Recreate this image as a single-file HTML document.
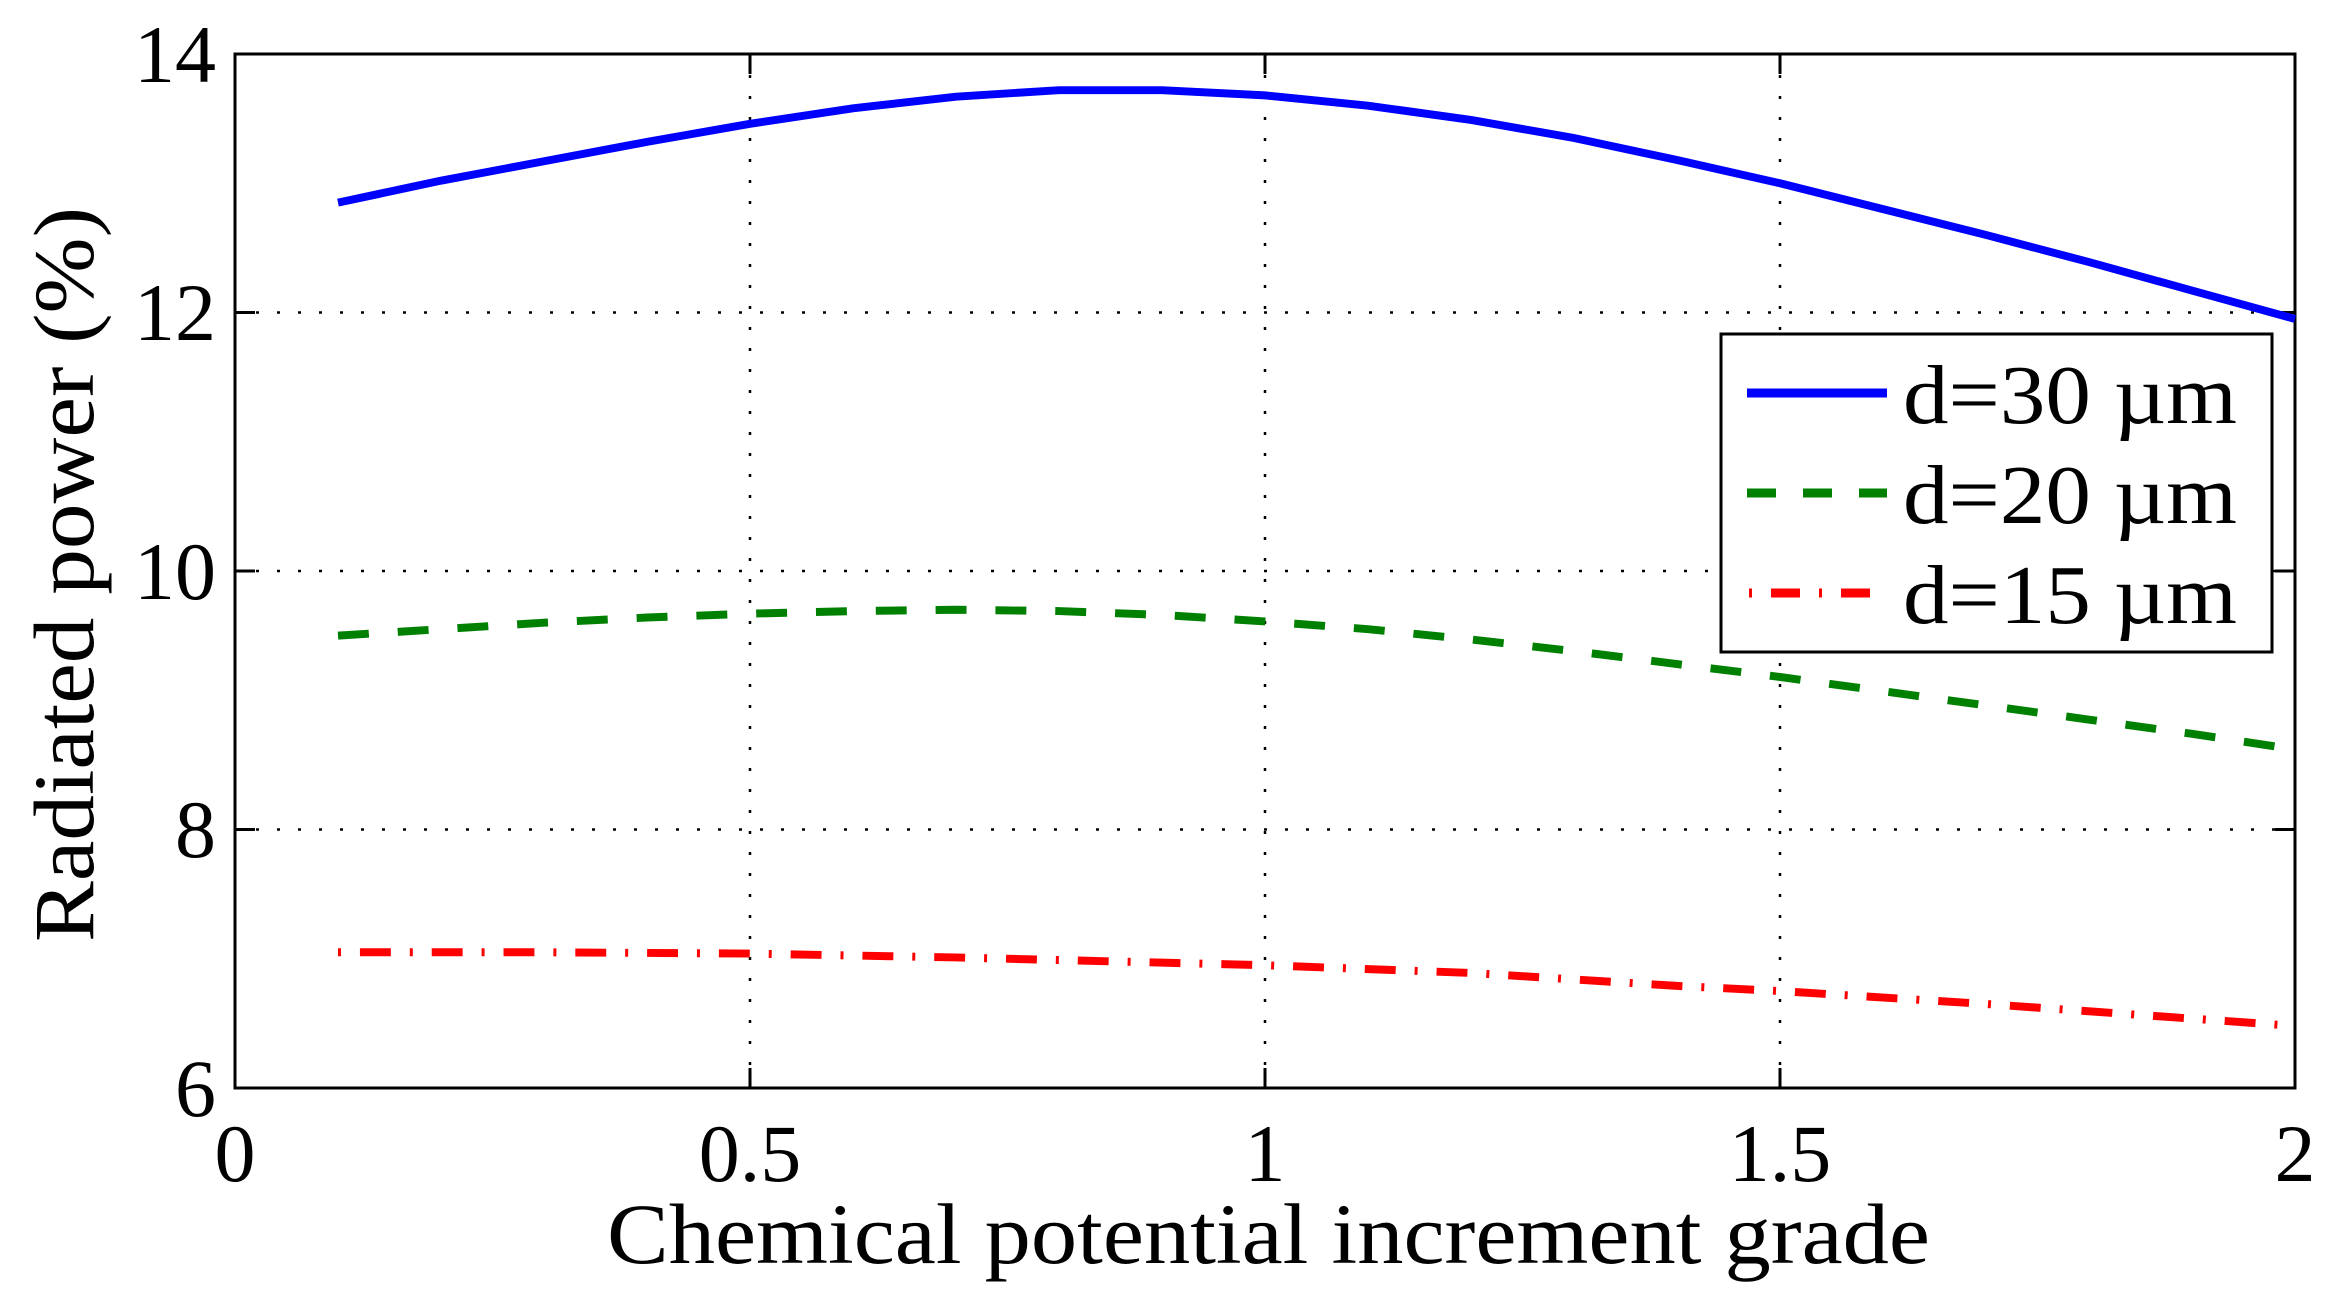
<!DOCTYPE html>
<html><head><meta charset="utf-8"><style>
html,body{margin:0;padding:0;background:#fff;}
svg{display:block;}
text{font-family:"Liberation Serif",serif;fill:#000;}
</style></head><body>
<svg width="2338" height="1296" viewBox="0 0 2338 1296" xmlns="http://www.w3.org/2000/svg">
<rect width="2338" height="1296" fill="#fff"/>
<!-- grid -->
<g stroke="#000" stroke-width="2.5" stroke-dasharray="3 18" fill="none">
<line x1="235" y1="312.5" x2="2295" y2="312.5"/>
<line x1="235" y1="571" x2="2295" y2="571"/>
<line x1="235" y1="829.5" x2="2295" y2="829.5"/>
<line x1="750" y1="54" x2="750" y2="1088"/>
<line x1="1265" y1="54" x2="1265" y2="1088"/>
<line x1="1780" y1="54" x2="1780" y2="1088"/>
</g>
<!-- ticks -->
<g stroke="#000" stroke-width="3">
<line x1="235" y1="312.5" x2="255" y2="312.5"/><line x1="2295" y1="312.5" x2="2275" y2="312.5"/>
<line x1="235" y1="571" x2="255" y2="571"/><line x1="2295" y1="571" x2="2275" y2="571"/>
<line x1="235" y1="829.5" x2="255" y2="829.5"/><line x1="2295" y1="829.5" x2="2275" y2="829.5"/>
<line x1="750" y1="1088" x2="750" y2="1068"/><line x1="750" y1="54" x2="750" y2="74"/>
<line x1="1265" y1="1088" x2="1265" y2="1068"/><line x1="1265" y1="54" x2="1265" y2="74"/>
<line x1="1780" y1="1088" x2="1780" y2="1068"/><line x1="1780" y1="54" x2="1780" y2="74"/>
</g>
<rect x="235" y="54" width="2060" height="1034" fill="none" stroke="#000" stroke-width="3"/>
<!-- data -->
<g transform="translate(235,54) scale(0.9971,0.99423) translate(-240,-54)" fill="none" stroke-width="8">
<polyline stroke="#0000ff" points="343.3,203.5 446.6,181.4 549.9,161.9 653.2,142.4 756.5,124.2 859.8,108.6 963.1,96.9 1066.4,90.4 1169.7,90.4 1273,95.6 1376.3,106 1479.6,120.3 1582.9,138.5 1686.2,160.6 1789.5,184 1892.8,210 1996.1,236 2099.4,263.3 2202.7,291.9 2306,320.5"/>
<polyline stroke="#008000" stroke-dasharray="31 29" points="343.3,639 446.6,632.5 549.9,626 653.2,620.8 756.5,616.9 859.8,614.3 963.1,613 1066.4,614.3 1169.7,618.2 1273,624.7 1376.3,632.5 1479.6,642.9 1582.9,654.6 1686.2,667.6 1789.5,680.6 1892.8,694.9 1996.1,709.2 2099.4,723.5 2202.7,737.8 2306,753.4"/>
<polyline stroke="#ff0000" stroke-dasharray="3 19 31 19" points="343.3,957.5 549.9,957.5 756.5,958.8 963.1,962.7 1169.7,967.9 1273,970.5 1479.6,978.3 1686.2,991.3 1789.5,996.5 1996.1,1009.5 2306,1031.6"/>
</g>
<!-- y tick labels -->
<g font-size="82" text-anchor="end">
<text x="216" y="82">14</text>
<text x="216" y="340">12</text>
<text x="216" y="599">10</text>
<text x="216" y="857">8</text>
<text x="216" y="1116">6</text>
</g>
<!-- x tick labels -->
<g font-size="82" text-anchor="middle">
<text x="235" y="1181">0</text>
<text x="750" y="1181">0.5</text>
<text x="1265" y="1181">1</text>
<text x="1780" y="1181">1.5</text>
<text x="2295" y="1181">2</text>
</g>
<text x="607" y="1263" font-size="86" textLength="1323" lengthAdjust="spacingAndGlyphs">Chemical potential increment grade</text>
<text transform="translate(93,942) rotate(-90)" font-size="86" textLength="735" lengthAdjust="spacingAndGlyphs">Radiated power (%)</text>
<!-- legend -->
<rect x="1721" y="334" width="551" height="318" fill="#fff" stroke="#000" stroke-width="3"/>
<line x1="1747" y1="393" x2="1887" y2="393" stroke="#0000ff" stroke-width="9"/>
<line x1="1747" y1="493" x2="1887" y2="493" stroke="#008000" stroke-width="9" stroke-dasharray="29 27"/>
<line x1="1749" y1="593" x2="1887" y2="593" stroke="#ff0000" stroke-width="9" stroke-dasharray="3 19 29 19"/>
<g font-size="84">
<text x="1903" y="423" textLength="334" lengthAdjust="spacingAndGlyphs">d=30 µm</text>
<text x="1903" y="523" textLength="334" lengthAdjust="spacingAndGlyphs">d=20 µm</text>
<text x="1903" y="623" textLength="334" lengthAdjust="spacingAndGlyphs">d=15 µm</text>
</g>
</svg>
</body></html>
